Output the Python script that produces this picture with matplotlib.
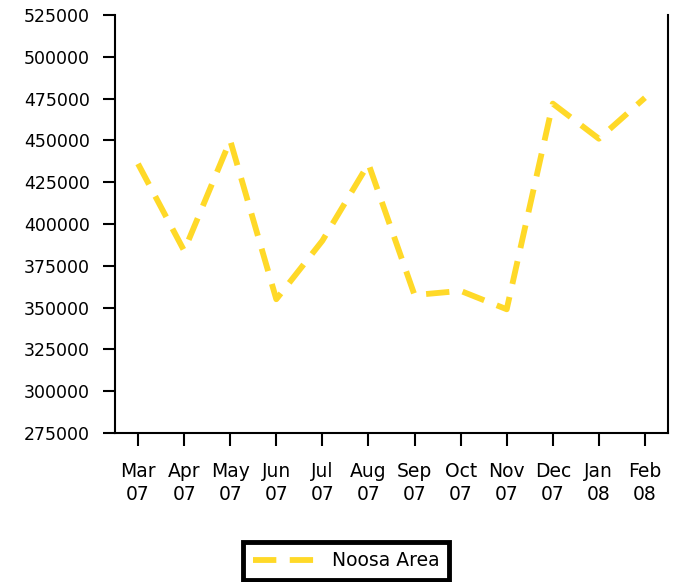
import matplotlib
matplotlib.use("Agg")
import matplotlib.pyplot as plt

months = ["Mar\n07", "Apr\n07", "May\n07", "Jun\n07", "Jul\n07", "Aug\n07",
          "Sep\n07", "Oct\n07", "Nov\n07", "Dec\n07", "Jan\n08", "Feb\n08"]
noosa = [436000, 384000, 450000, 355000, 390000, 436000,
         357500, 360000, 349000, 472000, 451000, 475500]
yticks = list(range(275000, 525001, 25000))

plt.rcParams['font.family'] = ['DejaVu Sans']

fig = plt.figure(figsize=(6.8, 5.82), dpi=100)
ax = fig.add_axes([115 / 680, 1 - 433 / 582, 553 / 680, 418 / 582])

ax.plot(range(len(noosa)), noosa, color='#FFD928', lw=4.2,
        linestyle=(0, (4.0, 2.3)), dash_capstyle='butt', label='Noosa Area')

ax.set_xlim(-0.5, len(noosa) - 0.5)
ax.set_ylim(275000, 525000)
ax.set_yticks(yticks)
ax.set_yticklabels([str(v) for v in yticks])
ax.set_xticks(range(len(months)))
ax.set_xticklabels(months, linespacing=1.25)

ax.spines['top'].set_visible(False)
for s in ['left', 'bottom', 'right']:
    ax.spines[s].set_linewidth(1.5)
ax.tick_params(axis='y', direction='out', length=9, width=1.5, labelsize=12.5, pad=9)
ax.tick_params(axis='x', direction='out', length=9, width=1.5, labelsize=13.5, pad=12)

leg = fig.legend(loc='center', bbox_to_anchor=(346 / 680, 1 - 561 / 582),
                 frameon=True, fancybox=False, framealpha=1, fontsize=13.5,
                 handlelength=3.6, borderpad=0.5, handletextpad=0.6,
                 borderaxespad=0)
leg.get_frame().set_edgecolor('black')
leg.get_frame().set_linewidth(3.5)

fig.savefig("out.png", dpi=100)
